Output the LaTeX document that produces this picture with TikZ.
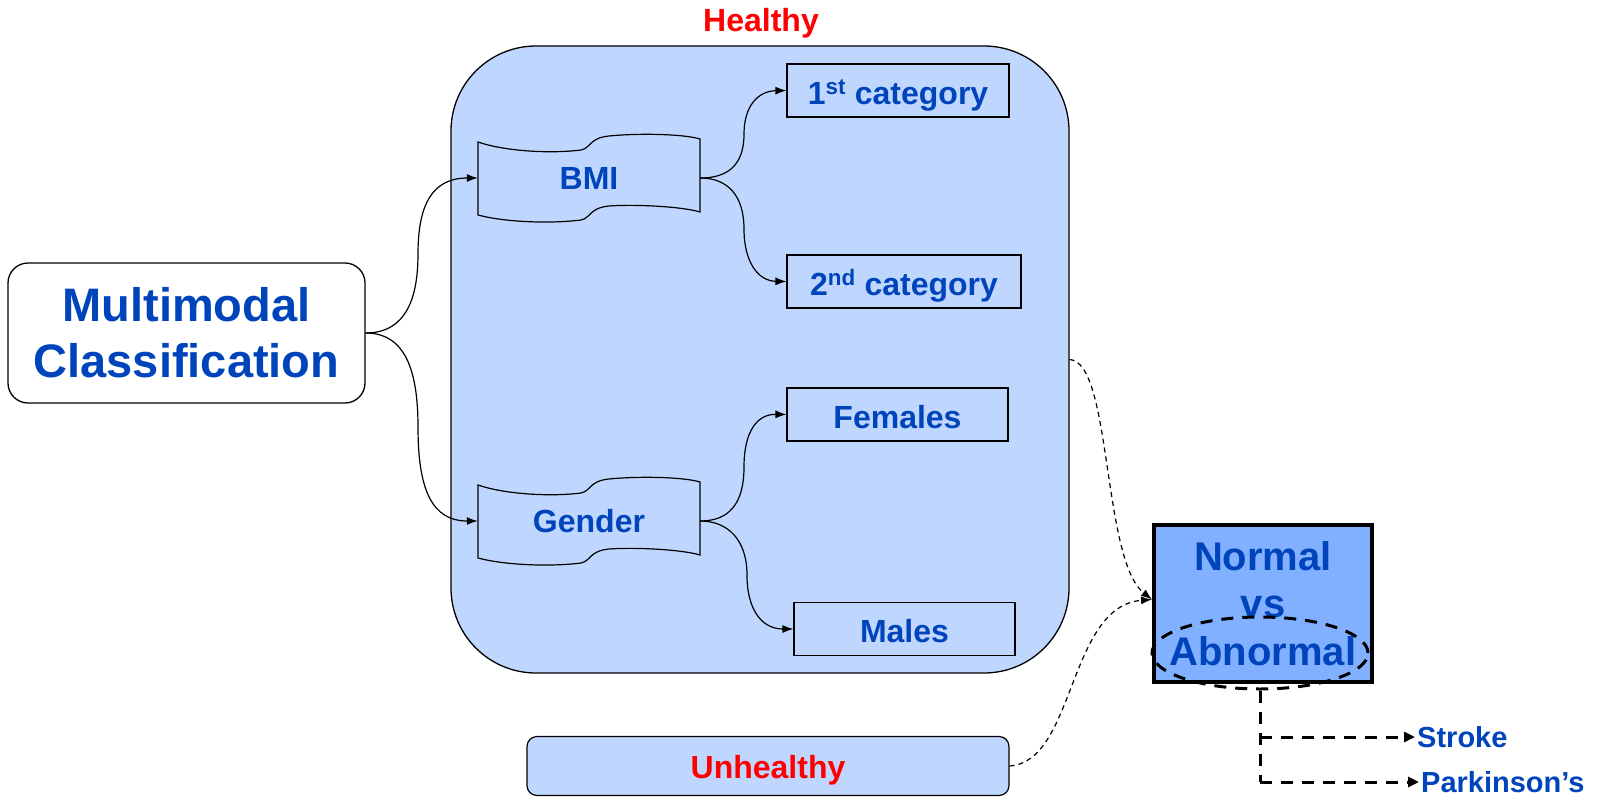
\documentclass[tikz,border=0pt]{standalone}
\usepackage{fontspec}
\setmainfont{Liberation Sans}
\usetikzlibrary{arrows.meta,calc,shapes.geometric}
\definecolor{lightfill}{RGB}{191,215,255}
\definecolor{midfill}{RGB}{128,176,255}
\definecolor{txtblue}{RGB}{0,68,187}
\definecolor{txtred}{RGB}{255,0,0}
\newcommand{\tapeoutline}[1]{%
  \draw[line width=1.2, shift={(#1.center)}]
    (-111,-36) .. controls (-85,-27) and (-40,-24) .. (-8,-28)
    .. controls (2,-30) and (0,-40) .. (20,-42)
    .. controls (50,-45) and (95,-44) .. (111,-39)
    -- (111,34)
    .. controls (95,29) and (50,26) .. (20,28)
    .. controls (0,30) and (2,40) .. (-8,42)
    .. controls (-40,46) and (-85,44) .. (-111,37) -- cycle;}
\begin{document}
\begin{tikzpicture}[x=1pt,y=-1pt,
  lab/.style={font=\bfseries\fontsize{32}{38}\selectfont, text=txtblue},
  catbox/.style={lab, draw=black, line width=1.2, fill=lightfill, inner sep=0,
     minimum height=53, text height=31, text depth=4},
  tapebox/.style={lab, minimum width=222, minimum height=73, inner sep=0},
  conn/.style={line width=1.2, -{Latex[length=11,width=8]}},
  dconn/.style={line width=1.2, dash pattern=on 5 off 4, -{Latex[length=11,width=8]}},
  tdash/.style={line width=3, dash pattern=on 12 off 9},
  tarrow/.style={tdash, -{Triangle[length=11,width=10]}},
  small/.style={font=\bfseries\fontsize{29}{34}\selectfont, text=txtblue, inner sep=2, anchor=west}
]
\useasboundingbox (0,0) rectangle (1600,800);

% container
\node[draw=black, line width=1.3, fill=lightfill, rounded corners=85,
      minimum width=618, minimum height=627, inner sep=0] (healthybox) at (760,359.5) {};
\node[font=\bfseries\fontsize{32}{38}\selectfont, text=txtred, inner sep=0] (healthylbl) at (761,23.5) {Healthy};

% multimodal
\node[draw=black, line width=1.3, fill=white, rounded corners=20,
      minimum width=357, minimum height=140, align=center, inner sep=0,
      font=\bfseries\fontsize{47}{56}\selectfont, text=txtblue] (multi) at (186.5,333)
      {Multimodal\\Classification};

% tapes
\node[tapebox] (bmi) at (589,178) {BMI};
\tapeoutline{bmi}
\node[tapebox] (gender) at (589,521) {Gender};
\tapeoutline{gender}

% category boxes
\node[catbox, minimum width=222] (c1) at (898,90.5) {1\textsuperscript{st} category};
\node[catbox, minimum width=234] (c2) at (904,281.5) {2\textsuperscript{nd} category};
\node[catbox, minimum width=221] (fem) at (897.5,414.5) {Females};
\node[catbox, minimum width=221] (mal) at (904.5,629) {Males};

% unhealthy
\node[draw=black, line width=1.2, fill=lightfill, rounded corners=10,
      minimum width=482, minimum height=59, inner sep=0,
      font=\bfseries\fontsize{32}{38}\selectfont, text=txtred,
      text height=28, text depth=4] (unh) at (768,766) {Unhealthy};

% normal vs abnormal
\node[draw=black, line width=4, fill=midfill, minimum width=218, minimum height=157,
      align=center, inner sep=0, font=\bfseries\fontsize{40}{47.5}\selectfont,
      text=txtblue] (norm) at (1263,603.5) {Normal\\vs\\Abnormal};
\node[ellipse, draw=black, tdash, minimum width=216, minimum height=72, inner sep=0] (ell) at (1260,653) {};

% outputs
\node[small] (stroke) at (1415,737) {Stroke};
\node[small] (park) at (1419,782) {Parkinson’s};
\coordinate (bend) at (ell.south |- park.west);
\coordinate (branch) at (ell.south |- stroke.west);
\draw[tdash] (ell.south) -- (bend);
\draw[tarrow] (bend) -- (park.west);
\draw[tarrow] (branch) -- (stroke.west);

% solid connectors
\draw[conn] (multi.east) .. controls (405,333) and (418,300) .. (418,254)
   .. controls (418,205) and (432,178) .. (bmi.west);
\draw[conn] (multi.east) .. controls (405,333) and (418,370) .. (418,427)
   .. controls (418,490) and (432,521) .. (gender.west);
\draw[conn] (bmi.east) .. controls (728,178) and (744,165) .. (744,134)
   .. controls (744,106) and (758,91) .. (c1.west);
\draw[conn] (bmi.east) .. controls (728,178) and (744,196) .. (744,229)
   .. controls (744,262) and (758,281) .. (c2.west);
\draw[conn] (gender.east) .. controls (728,521) and (744,505) .. (744,467)
   .. controls (744,430) and (758,414) .. (fem.west);
\draw[conn] (gender.east) .. controls (728,521) and (747,540) .. (747,575)
   .. controls (747,610) and (762,629) .. (mal.west);

% dashed connectors
\draw[dconn] (healthybox.east) .. controls (1112,362) and (1102,560) .. ($(norm.west)+(0,-4)$);
\draw[dconn] (unh.east) .. controls (1075,762) and (1068,606) .. ($(norm.west)+(0,-4)$);
\end{tikzpicture}
\end{document}
